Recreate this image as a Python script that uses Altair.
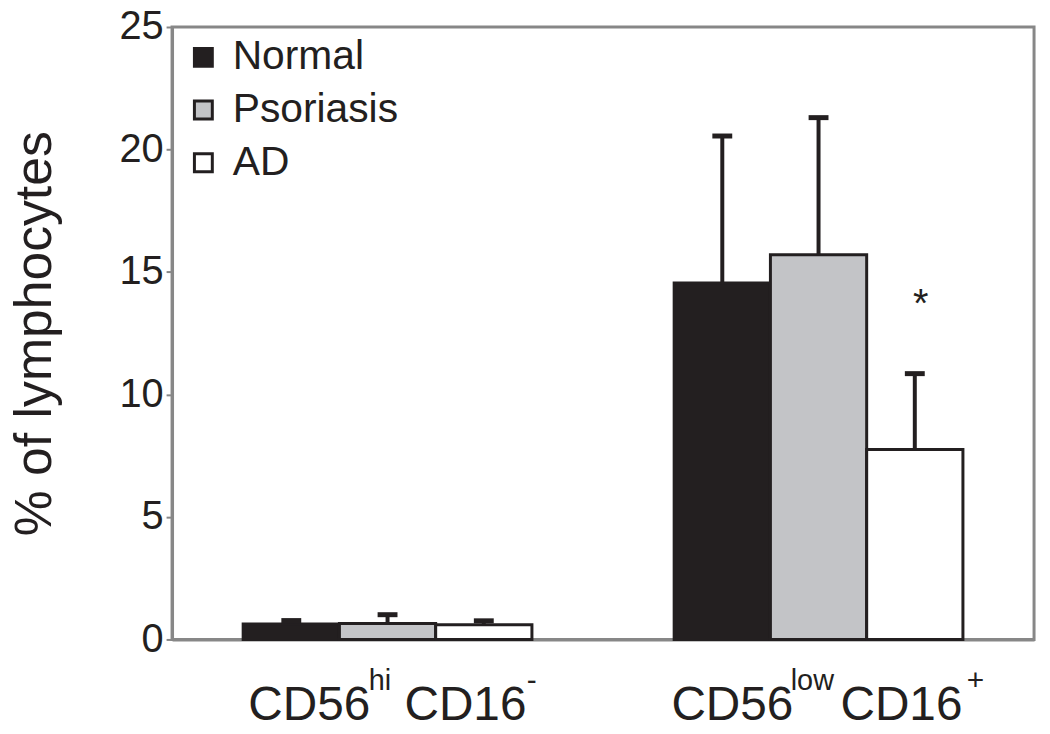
import altair as alt
import pandas as pd

# ---- data ----
categories = ["CD56hi CD16-", "CD56low CD16+"]
groups = ["Normal", "Psoriasis", "AD"]
means_hi = [0.63, 0.65, 0.60]
errs_hi = [0.14, 0.36, 0.16]
means_low = [14.55, 15.70, 7.75]
errs_low = [6.00, 5.60, 3.10]
star_category = "CD56low CD16+"
star_group = "AD"
star_value = 14.0
label_main1 = ["CD56", "CD56"]
label_sup1 = ["hi", "low"]
label_main2 = ["CD16", "CD16"]
label_sup2 = ["-", "+"]
y_ticks = [0, 5, 10, 15, 20, 25]
fill_colors = ["#231f20", "#c3c4c7", "#ffffff"]

rows = []
for cat, means, errs in [(categories[0], means_hi, errs_hi), (categories[1], means_low, errs_low)]:
    for g, m, e in zip(groups, means, errs):
        rows.append({"category": cat, "group": g, "mean": m, "upper": m + e})
df = pd.DataFrame(rows)

INK = "#231f20"
FRAME = "#878787"
FONT = "Liberation Sans"

x_enc = alt.X(
    "category:N",
    sort=categories,
    scale=alt.Scale(domain=categories, paddingInner=0.33, paddingOuter=0.165),
    axis=alt.Axis(labels=False, ticks=False, title=None, domainColor=FRAME, domainWidth=3),
)
xo_enc = alt.XOffset("group:N", sort=groups,
                     scale=alt.Scale(domain=groups, paddingInner=0, paddingOuter=0))
y_scale = alt.Scale(domain=[0, 25], nice=False)

base = alt.Chart(df)

bars = base.mark_bar(stroke=INK, strokeWidth=3).encode(
    x=x_enc,
    xOffset=xo_enc,
    y=alt.Y(
        "mean:Q",
        scale=y_scale,
        axis=alt.Axis(
            values=y_ticks,
            title="% of  lymphocytes",
            grid=False,
            domainColor=FRAME,
            domainWidth=3,
            tickColor=FRAME,
            tickWidth=2,
            tickSize=6,
            labelFontSize=40,
            labelFont=FONT,
            labelColor=INK,
            labelPadding=3,
            titleFont=FONT,
            titleFontSize=52,
            titleFontWeight="normal",
            titleColor=INK,
            titlePadding=58,
        ),
    ),
    fill=alt.Fill(
        "group:N",
        sort=groups,
        scale=alt.Scale(domain=groups, range=fill_colors),
        legend=alt.Legend(
            title=None,
            orient="none",
            legendX=11,
            legendY=10,
            symbolType="square",
            symbolSize=324,
            symbolStrokeColor=INK,
            symbolStrokeWidth=3,
            labelFont=FONT,
            labelFontSize=41,
            labelColor=INK,
            labelOffset=9,
            labelLimit=0,
            rowPadding=11,
            padding=0,
        ),
    ),
)

err_rules = base.mark_rule(color=INK, strokeWidth=4, opacity=1).encode(
    x=alt.X("category:N", sort=categories),
    xOffset=alt.XOffset("group:N", sort=groups),
    y=alt.Y("mean:Q", scale=y_scale),
    y2="upper:Q",
)

err_caps = base.mark_tick(color=INK, size=20, thickness=5, opacity=1).encode(
    x=alt.X("category:N", sort=categories),
    xOffset=alt.XOffset("group:N", sort=groups),
    y=alt.Y("upper:Q", scale=y_scale),
)

star_df = pd.DataFrame([{"category": star_category, "group": star_group, "v": star_value, "t": "*"}])
star = alt.Chart(star_df).mark_text(
    font=FONT, fontSize=40, color=INK, baseline="alphabetic", dy=21, dx=6
).encode(
    x=alt.X("category:N", sort=categories),
    xOffset=alt.XOffset("group:N", sort=groups),
    y=alt.Y("v:Q", scale=y_scale),
    text="t:N",
)

# x category labels with superscripts, drawn as real text
label_layers = []
piece_offsets = [
    [(-140, 48, 697), (-19, 29, 667), (17, 48, 697), (140, 30, 667)],
    [(-148, 48, 697), (-28, 29, 667), (22, 48, 697), (149, 30, 667)],
]
for i, cat in enumerate(categories):
    pieces = [label_main1[i], label_sup1[i], label_main2[i], label_sup2[i]]
    for txt, (dx, fs, ypix) in zip(pieces, piece_offsets[i]):
        label_layers.append(
            alt.Chart(pd.DataFrame([{"category": cat, "t": txt}])).mark_text(
                font=FONT, fontSize=fs, color=INK, align="left", baseline="alphabetic", dx=dx
            ).encode(
                x=alt.X("category:N", sort=categories),
                y=alt.value(ypix),
                text="t:N",
            )
        )

chart = alt.layer(bars, err_rules, err_caps, star, *label_layers).properties(
    width=867,
    height=616,
    padding={"left": 165, "top": 17, "right": 8, "bottom": 92},
    autosize=alt.AutoSizeParams(type="none"),
    background="white",
).configure_view(stroke=FRAME, strokeWidth=3)

chart.save("out.html", embed_options={"renderer": "svg", "actions": False})
